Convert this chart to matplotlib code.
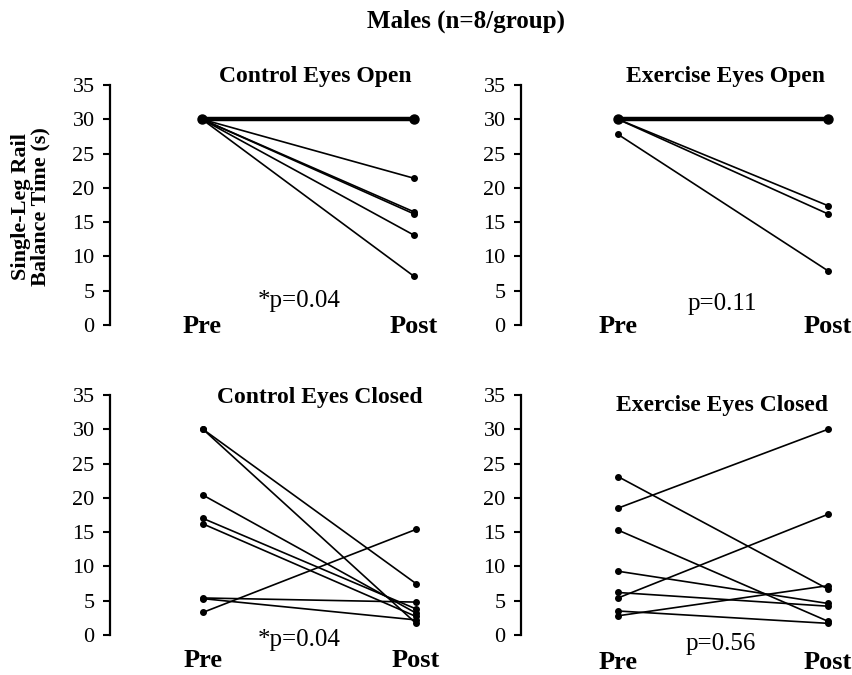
import matplotlib
matplotlib.use("Agg")
import matplotlib.pyplot as plt
from collections import Counter

plt.rcParams["font.family"] = ["Liberation Serif", "DejaVu Serif"]

# balance time (s), one entry per subject, pre and post
ceo_pre = [30, 30, 30, 30, 30, 30, 30, 30]
ceo_post = [30, 30, 30, 21.4, 16.5, 16.2, 13.1, 7.1]
eeo_pre = [30, 30, 30, 30, 30, 30, 30, 27.8]
eeo_post = [30, 30, 30, 30, 30, 17.4, 16.2, 7.9]
cec_pre = [30, 30, 20.4, 17.0, 16.2, 5.4, 5.3, 3.3]
cec_post = [7.5, 1.7, 3.2, 3.8, 2.7, 4.8, 2.2, 15.4]
eec_pre = [23.1, 18.5, 15.3, 9.3, 6.2, 5.4, 3.5, 2.8]
eec_post = [6.7, 30, 2.0, 4.6, 4.2, 17.6, 1.7, 7.2]

titles = ["Control Eyes Open", "Exercise Eyes Open",
          "Control Eyes Closed", "Exercise Eyes Closed"]
pvals = ["*p=0.04", "p=0.11", "*p=0.04", "p=0.56"]
times = ["Pre", "Post"]

W, H = 852, 675
fig = plt.figure(figsize=(W / 100, H / 100), dpi=100)

# pixel layout: spine x, pre x, post x, right x, y of 35, y of 0
panels = [
    (110, 202, 414, 440, 85, 325),
    (521, 618, 828, 848, 85, 325),
    (110, 203, 416, 440, 395, 635),
    (521, 618, 828, 848, 395, 635),
]
# baselines (px) for title, p text, Pre/Post labels; x centre for title, p text
text_pos = [
    (82, 307, 333, 315, 299),
    (82, 310, 333, 725, 722),
    (403, 646, 667, 320, 299),
    (411, 650, 669, 722, 721),
]
data = [(ceo_pre, ceo_post), (eeo_pre, eeo_post),
        (cec_pre, cec_post), (eec_pre, eec_post)]

for i, (sx, px0, px1, rx, yt, yb) in enumerate(panels):
    ax = fig.add_axes([sx / W, 1 - yb / H, (rx - sx) / W, (yb - yt) / H])
    scale = px1 - px0
    ax.set_xlim((sx - px0) / scale, (rx - px0) / scale)
    ax.set_ylim(0, 35)
    pre, post = data[i]
    # identical subjects overlap; the original shows them as a heavier line
    dup = Counter(zip(pre, post))
    for (a, b), n in dup.items():
        lw = min(1.2 + 1.0 * (n - 1), 3.2)
        ms = 4 if n == 1 else 6.5
        ax.plot([0, 1], [a, b], color="black", lw=lw, marker="o", ms=ms,
                clip_on=False, solid_capstyle="round")
    for s in ["top", "right", "bottom"]:
        ax.spines[s].set_visible(False)
    ax.spines["left"].set_linewidth(1.6)
    ax.set_yticks(range(0, 36, 5))
    ax.set_xticks([])
    ax.tick_params(axis="y", direction="out", length=5, width=1.5,
                   labelsize=16, pad=6)
    ypx = 35 / (yb - yt)
    tb, pb, lb, tx, pxc = text_pos[i]
    ax.text((tx - px0) / scale, (yb - tb) * ypx, titles[i], ha="center",
            va="baseline", fontsize=17, fontweight="bold", clip_on=False)
    ax.text((pxc - px0) / scale, (yb - pb) * ypx, pvals[i], ha="center",
            va="baseline", fontsize=18, clip_on=False)
    for k, lab in enumerate(times):
        ax.text(k, (yb - lb) * ypx, lab, ha="center", va="baseline",
                fontsize=19, fontweight="bold", clip_on=False)

fig.text(466 / W, 1 - 28 / H, "Males (n=8/group)", ha="center",
         va="baseline", fontsize=18, fontweight="bold")
fig.text(31 / W, 1 - 207 / H, "Single-Leg Rail\nBalance Time (s)",
         ha="center", va="center", rotation=90, fontsize=16,
         fontweight="bold", linespacing=0.95)

fig.savefig("out.png", dpi=100)
